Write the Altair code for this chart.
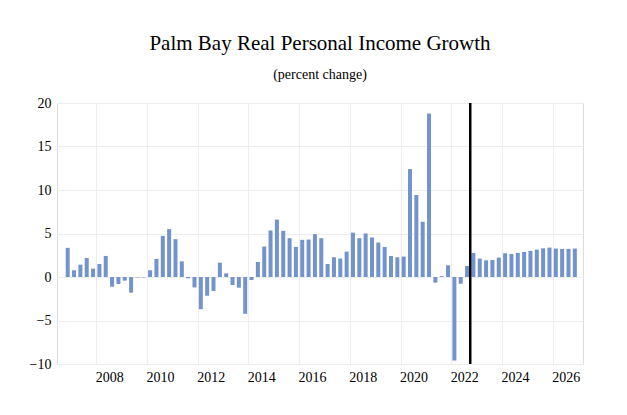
import altair as alt
import pandas as pd

# Quarters from 2006Q4 to 2026Q4
start_year = 2006
start_q = 4
values = [
    3.35, 0.77, 1.42, 2.19, 0.96, 1.5, 2.42, -1.12, -0.8, -0.42,
    -1.8, -0.05, -0.05, 0.77, 2.08, 4.73, 5.5, 4.35, 1.8, -0.15,
    -1.2, -3.7, -2.15, -1.6, 1.65, 0.42, -0.92, -1.23, -4.23, -0.35,
    1.73, 3.5, 5.35, 6.6, 5.3, 4.46, 3.46, 4.27, 4.3, 4.92,
    4.46, 1.5, 2.27, 2.12, 2.92, 5.1, 4.46, 5.0, 4.54, 3.96,
    3.46, 2.42, 2.27, 2.35, 12.4, 9.42, 6.35, 18.8, -0.65, 0.1,
    1.35, -9.6, -0.77, 1.27, 2.77, 2.12, 1.92, 1.96, 2.23, 2.73,
    2.65, 2.77, 2.88, 3.0, 3.15, 3.3, 3.38, 3.27, 3.23, 3.23,
    3.27,
]
quarters = []
y, q = start_year, start_q
for _ in values:
    quarters.append(f"{y}Q{q}")
    q += 1
    if q > 4:
        q = 1
        y += 1

forecast_start = "2022Q4"  # black line drawn before this quarter
year_ticks = [2008, 2010, 2012, 2014, 2016, 2018, 2020, 2022, 2024, 2026]
y_ticks = [-10, -5, 0, 5, 10, 15, 20]


def qpos(label):
    yr, qq = label.split("Q")
    return int(yr) + (int(qq) - 0.5) / 4.0


df = pd.DataFrame({"quarter": quarters, "value": values})
df["t"] = df["quarter"].map(qpos)

line_df = pd.DataFrame({"t": [qpos(forecast_start) - 0.125]})

FONT = "Liberation Serif"
xscale = alt.Scale(domain=[2006.65, 2027.0], nice=False, zero=False)
yscale = alt.Scale(domain=[-10, 20], nice=False)

bars = alt.Chart(df).mark_bar(color="#7293cb", width=4).encode(
    x=alt.X(
        "t:Q",
        scale=xscale,
        axis=alt.Axis(
            values=year_ticks,
            format="d",
            labelOffset=13,
            grid=True,
            gridColor="#ededed",
            domain=False,
            ticks=False,
            labelFont=FONT,
            labelFontSize=14,
            labelColor="black",
            labelPadding=6,
            title=None,
        ),
    ),
    y=alt.Y(
        "value:Q",
        scale=yscale,
        axis=alt.Axis(
            values=y_ticks,
            grid=True,
            gridColor="#ededed",
            domain=False,
            ticks=False,
            labelFont=FONT,
            labelFontSize=14,
            labelColor="black",
            labelPadding=6,
            title=None,
        ),
    ),
)

vline = alt.Chart(line_df).mark_rule(color="black", strokeWidth=2.5).encode(
    x=alt.X("t:Q", scale=xscale),
    y=alt.value(0),
    y2=alt.value(261),
)

chart = (
    alt.layer(bars, vline)
    .properties(
        width=526,
        height=261,
        title=alt.TitleParams(
            text="Palm Bay Real Personal Income Growth",
            subtitle="(percent change)",
            font=FONT,
            fontSize=21,
            fontWeight="normal",
            color="black",
            subtitleFont=FONT,
            subtitleFontSize=14,
            subtitleColor="black",
            subtitlePadding=14,
            anchor="middle",
            offset=14,
        ),
        autosize=alt.AutoSizeParams(type="none"),
        padding={"left": 49, "top": 95, "right": 30, "bottom": 40},
    )
    .configure_view(stroke="transparent", strokeWidth=0, fill="white")
    .configure(background="white")
)

chart.save("out.html", embed_options={"renderer": "svg", "actions": False})
